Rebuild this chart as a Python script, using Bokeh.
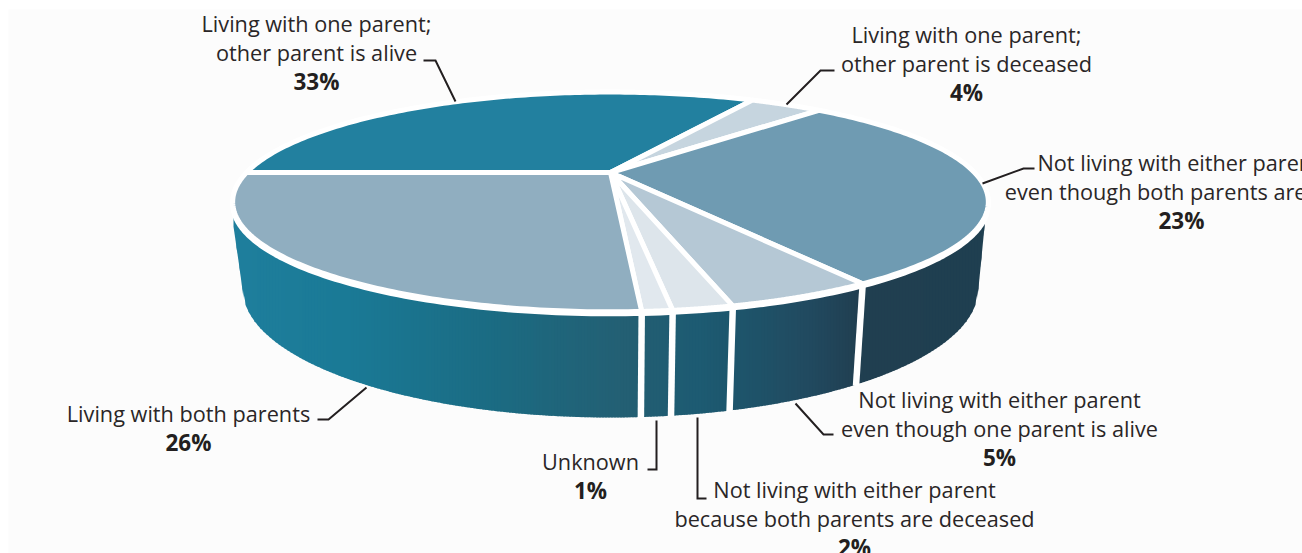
import numpy as np
from bokeh.core.properties import value
from bokeh.embed import file_html
from bokeh.models import Range1d
from bokeh.plotting import figure
from bokeh.resources import INLINE

# Living arrangements, clockwise from the left-hand horizontal edge of the pie
categories = [
    "Living with one parent; other parent is alive",
    "Living with one parent; other parent is deceased",
    "Not living with either parent even though both parents are alive",
    "Not living with either parent even though one parent is alive",
    "Not living with either parent because both parents are deceased",
    "Unknown",
    "Living with both parents",
]
shares = [33, 4, 23, 5, 2, 1, 26]
face_colors = ["#22809f", "#c6d5df", "#6f9bb2", "#b5c8d5", "#dde5eb", "#e1e8ee", "#90aec0"]

label_lines = [
    ["Living with one parent;", "other parent is alive"],
    ["Living with one parent;", "other parent is deceased"],
    ["Not living with either parent,", "even though both parents are alive"],
    ["Not living with either parent", "even though one parent is alive"],
    ["Not living with either parent", "because both parents are deceased"],
    ["Unknown"],
    ["Living with both parents"],
]

# The published shares add up to 94; the wedge for the third category also
# carries the unreported remainder so that the wedges close the full circle.
REMAINDER_SLICE = 2

# Label placement: centre x and the vertical middle of the first line
LABEL_ANCHORS = [(316, 23), (966, 34), (1181, 162), (999, 399), (854, 489), (590, 461), (188, 413)]
LINE_STEP = 29

# Leader lines, from the pie edge to the label
LEADERS = [
    ([455, 435, 423], [101, 60, 60]),
    ([786, 820, 834], [104, 70, 70]),
    ([982, 1023, 1034], [183, 168, 168]),
    ([795, 823, 833], [403, 434, 434]),
    ([697, 697, 706], [417, 498, 498]),
    ([656, 656, 647], [420, 469, 469]),
    ([366, 328, 317], [387, 419, 419]),
]

# Perspective projection of the unit circle on to the page (pixels)
CX, CY = 610.0, 172.0
AX, BY, K = 364.0, 102.0, 0.268
RIM_DROP = 2.0

# Lower edge of the wall: half an ellipse joined to the rim by short side edges
BASE_RX, BASE_RY, BASE_CY = 368.0, 129.0, 288.0
WALL_LEFT, WALL_RIGHT, WALL_SHOULDER = 233.0, 984.0, 226.0


def project(theta, drop=0.0):
    w = 1.0 + K * np.sin(theta)
    return CX + AX * np.cos(theta) / w, CY - BY * np.sin(theta) / w + drop


drawn = np.array(shares, dtype=float)
drawn[REMAINDER_SLICE] += 100 - drawn.sum()
edges = np.pi - np.concatenate([[0.0], np.cumsum(drawn)]) / 100.0 * 2 * np.pi

p = figure(
    width=1302,
    height=553,
    x_range=Range1d(0, 1302),
    y_range=Range1d(553, 0),
    x_axis_type=None,
    y_axis_type=None,
    output_backend="svg",
    toolbar_location=None,
    min_border=0,
    outline_line_color=None,
    background_fill_color="#ffffff",
    border_fill_color="#ffffff",
)
p.grid.visible = False

# Pale panel behind the chart
p.quad(left=[8], right=[1302], top=[9], bottom=[553], fill_color="#fcfcfc", line_color=None)

# Side wall: narrow vertical strips carrying the horizontal colour ramp
ramp_x = [233, 350, 500, 630, 700, 760, 810, 860, 985]
ramp_rgb = np.array([
    [31, 127, 157], [26, 122, 150], [28, 107, 130], [36, 95, 115],
    [29, 91, 114], [31, 82, 104], [34, 74, 96], [33, 63, 80], [31, 63, 80],
], dtype=float)

t = np.linspace(np.pi, 0, 800)
base_x = CX + BASE_RX * np.cos(t)
base_y = BASE_CY + BASE_RY * np.sin(t)
outline_x = np.concatenate([[WALL_LEFT], base_x, [WALL_RIGHT]])
outline_y = np.concatenate([[WALL_SHOULDER], base_y, [WALL_SHOULDER]])


def wall_bottom(x):
    return float(np.interp(x, outline_x, outline_y))


rim_mid_y = CY + BY * K / (1 - K**2)
strip_xs, strip_ys, strip_colors = [], [], []
for x0 in np.arange(WALL_LEFT, WALL_RIGHT, 3.0):
    x1 = min(x0 + 4, WALL_RIGHT)
    strip_xs.append([x0, x1, x1, x0])
    strip_ys.append([rim_mid_y, rim_mid_y, wall_bottom(x1), wall_bottom(x0)])
    rgb = [int(np.interp(x0 + 1.5, ramp_x, ramp_rgb[:, c])) for c in range(3)]
    strip_colors.append("#%02x%02x%02x" % tuple(rgb))
p.patches(strip_xs, strip_ys, fill_color=strip_colors, line_color=None)

# White dividers on the wall where a wedge boundary falls on the front
for e in edges[1:-1]:
    if np.sin(e) < 0:
        tx, ty = project(e, RIM_DROP)
        bx = CX + (tx - CX) * BASE_RX / (AX / np.sqrt(1 - K**2))
        p.line([tx, bx], [ty, wall_bottom(bx) + 1], line_color="#ffffff", line_width=6.5)

# White rim round the top face, a little lower than the face itself
rim_x, rim_y = project(np.linspace(0, 2 * np.pi, 360), RIM_DROP)
p.patch(rim_x, rim_y, fill_color="#ffffff", line_color="#ffffff", line_width=5)

# Top face: one wedge per category
for i, color in enumerate(face_colors):
    arc = np.linspace(edges[i], edges[i + 1], 120)
    ax, ay = project(arc)
    p.patch(
        np.concatenate([[CX], ax]),
        np.concatenate([[CY], ay]),
        fill_color=color,
        line_color="#ffffff",
        line_width=5,
        line_join="round",
    )

# Labels, each followed by its bold percentage
FONT = value("Open Sans")
for (cx, mid), lines, share, leader in zip(LABEL_ANCHORS, label_lines, shares, LEADERS):
    ys = [mid + LINE_STEP * n for n in range(len(lines))]
    p.text([cx] * len(lines), ys, text=lines, text_font=FONT, text_font_size="21.7px",
           text_align="center", text_baseline="middle", text_color="#2a2627")
    p.text([cx], [mid + LINE_STEP * len(lines)], text=[f"{share}%"], text_font=FONT,
           text_font_size="22.5px", text_font_style="bold", text_align="center",
           text_baseline="middle", text_color="#231f20")
    p.line(leader[0], leader[1], line_color="#231f20", line_width=2, line_join="miter")

open("out.html", "w").write(file_html(p, INLINE))
